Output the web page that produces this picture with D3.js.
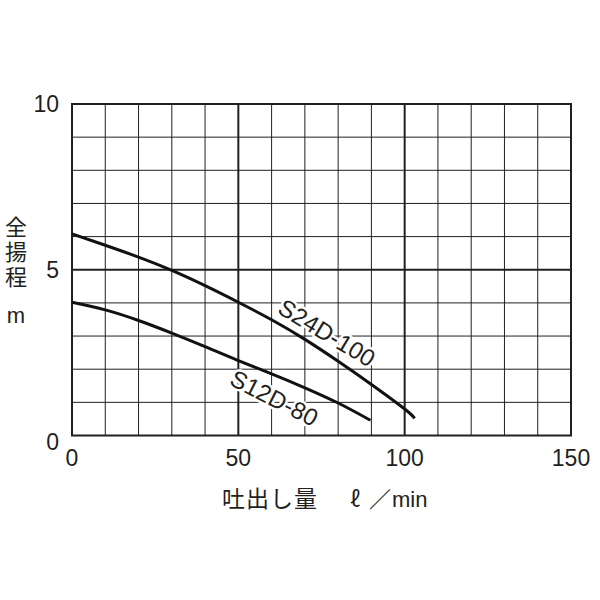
<!DOCTYPE html>
<html>
<head>
<meta charset="utf-8">
<script src="https://cdn.jsdelivr.net/npm/d3@7"></script>
<style>
  body { margin: 0; background: #fff; }
  text { font-family: "Liberation Sans", Arial, sans-serif; fill: #231f20; }
  .jp { font-family: "Noto Sans CJK JP", sans-serif; }
  .lbl { stroke: #fff; stroke-width: 5px; paint-order: stroke; stroke-linejoin: round; }
</style>
</head>
<body>
<script>
// flow (l/min) vs head (m)
var s24Flow = [0, 10, 20, 30, 40, 50, 60, 70, 80, 90, 100, 103];
var s24Head = [6.08, 5.74, 5.38, 4.98, 4.52, 4.02, 3.49, 2.9, 2.24, 1.54, 0.8, 0.52];
var s12Flow = [0, 10, 20, 30, 40, 50, 60, 70, 80, 89.7];
var s12Head = [4.02, 3.79, 3.47, 3.09, 2.68, 2.26, 1.86, 1.44, 0.98, 0.46];
var xTicks = [0, 50, 100, 150];
var yTicks = [0, 5, 10];

var svg = d3.select('body').append('svg').attr('width', 600).attr('height', 600);

var x = d3.scaleLinear().domain([0, 150]).range([72, 571]);
var y = d3.scaleLinear().domain([0, 10]).range([435.5, 104]);

var grid = svg.append('g');

// grid, heavier every 50 l/min and at 5 m
grid.selectAll('line.vx')
    .data(d3.range(10, 150, 10))
    .enter().append('line')
        .attr('x1', function(d){return x(d);})
        .attr('x2', function(d){return x(d);})
        .attr('y1', y(0)).attr('y2', y(10))
        .attr('stroke', '#231f20')
        .attr('stroke-width', function(d){return d % 50 == 0 ? 2 : 1;});

grid.selectAll('line.hy')
    .data(d3.range(1, 10, 1))
    .enter().append('line')
        .attr('y1', function(d){return y(d);})
        .attr('y2', function(d){return y(d);})
        .attr('x1', x(0)).attr('x2', x(150))
        .attr('stroke', '#231f20')
        .attr('stroke-width', function(d){return d == 5 ? 2 : 1;});

// curve labels (white halo cuts the grid like the original)
svg.append('text').attr('class', 'lbl').text('S24D-100')
    .attr('transform', 'translate(' + x(76.6) + ',' + y(3.1) + ') rotate(31)')
    .attr('text-anchor', 'middle').attr('dominant-baseline', 'central')
    .attr('font-size', 24);
svg.append('text').attr('class', 'lbl').text('S12D-80')
    .attr('transform', 'translate(' + x(60.8) + ',' + y(1.13) + ') rotate(27)')
    .attr('text-anchor', 'middle').attr('dominant-baseline', 'central')
    .attr('font-size', 24);

grid.append('rect')
    .attr('x', x(0)).attr('y', y(10))
    .attr('width', x(150) - x(0)).attr('height', y(0) - y(10))
    .attr('fill', 'none').attr('stroke', '#231f20').attr('stroke-width', 2);

// curves
var line = d3.line()
    .x(function(d){return x(d[0]);})
    .y(function(d){return y(d[1]);})
    .curve(d3.curveNatural);

[[s24Flow, s24Head], [s12Flow, s12Head]].forEach(function(s){
    svg.append('path')
        .attr('d', line(d3.zip(s[0], s[1])))
        .attr('fill', 'none')
        .attr('stroke', '#111')
        .attr('stroke-width', 3);
});

// tick labels
svg.selectAll('text.xt')
    .data(xTicks)
    .enter().append('text')
        .attr('x', function(d){return x(d);})
        .attr('y', 466)
        .attr('text-anchor', 'middle')
        .attr('font-size', 23)
        .text(function(d){return d;});

svg.selectAll('text.yt')
    .data(yTicks)
    .enter().append('text')
        .attr('x', 59)
        .attr('y', function(d){return d == 0 ? y(d) + 14 : y(d) + 8;})
        .attr('text-anchor', 'end')
        .attr('font-size', 23)
        .text(function(d){return d;});

// axis titles
svg.append('text').attr('class', 'jp')
    .attr('x', 16).attr('y', 216)
    .style('writing-mode', 'vertical-rl')
    .attr('letter-spacing', 3)
    .attr('font-size', 22)
    .text('全揚程');
svg.append('text').text('m')
    .attr('x', 16).attr('y', 323)
    .attr('text-anchor', 'middle').attr('font-size', 22);

svg.append('text').attr('class', 'jp')
    .attr('x', 222).attr('y', 507)
    .attr('font-size', 23).attr('letter-spacing', 1)
    .text('吐出し量');
svg.append('text').attr('class', 'jp')
    .attr('x', 350).attr('y', 507)
    .attr('font-size', 22)
    .text('ℓ');
svg.append('text').attr('class', 'jp')
    .attr('x', 369).attr('y', 507)
    .attr('font-size', 22)
    .text('／');
svg.append('text')
    .attr('x', 392).attr('y', 507)
    .attr('font-size', 22)
    .text('min');
</script>
</body>
</html>
